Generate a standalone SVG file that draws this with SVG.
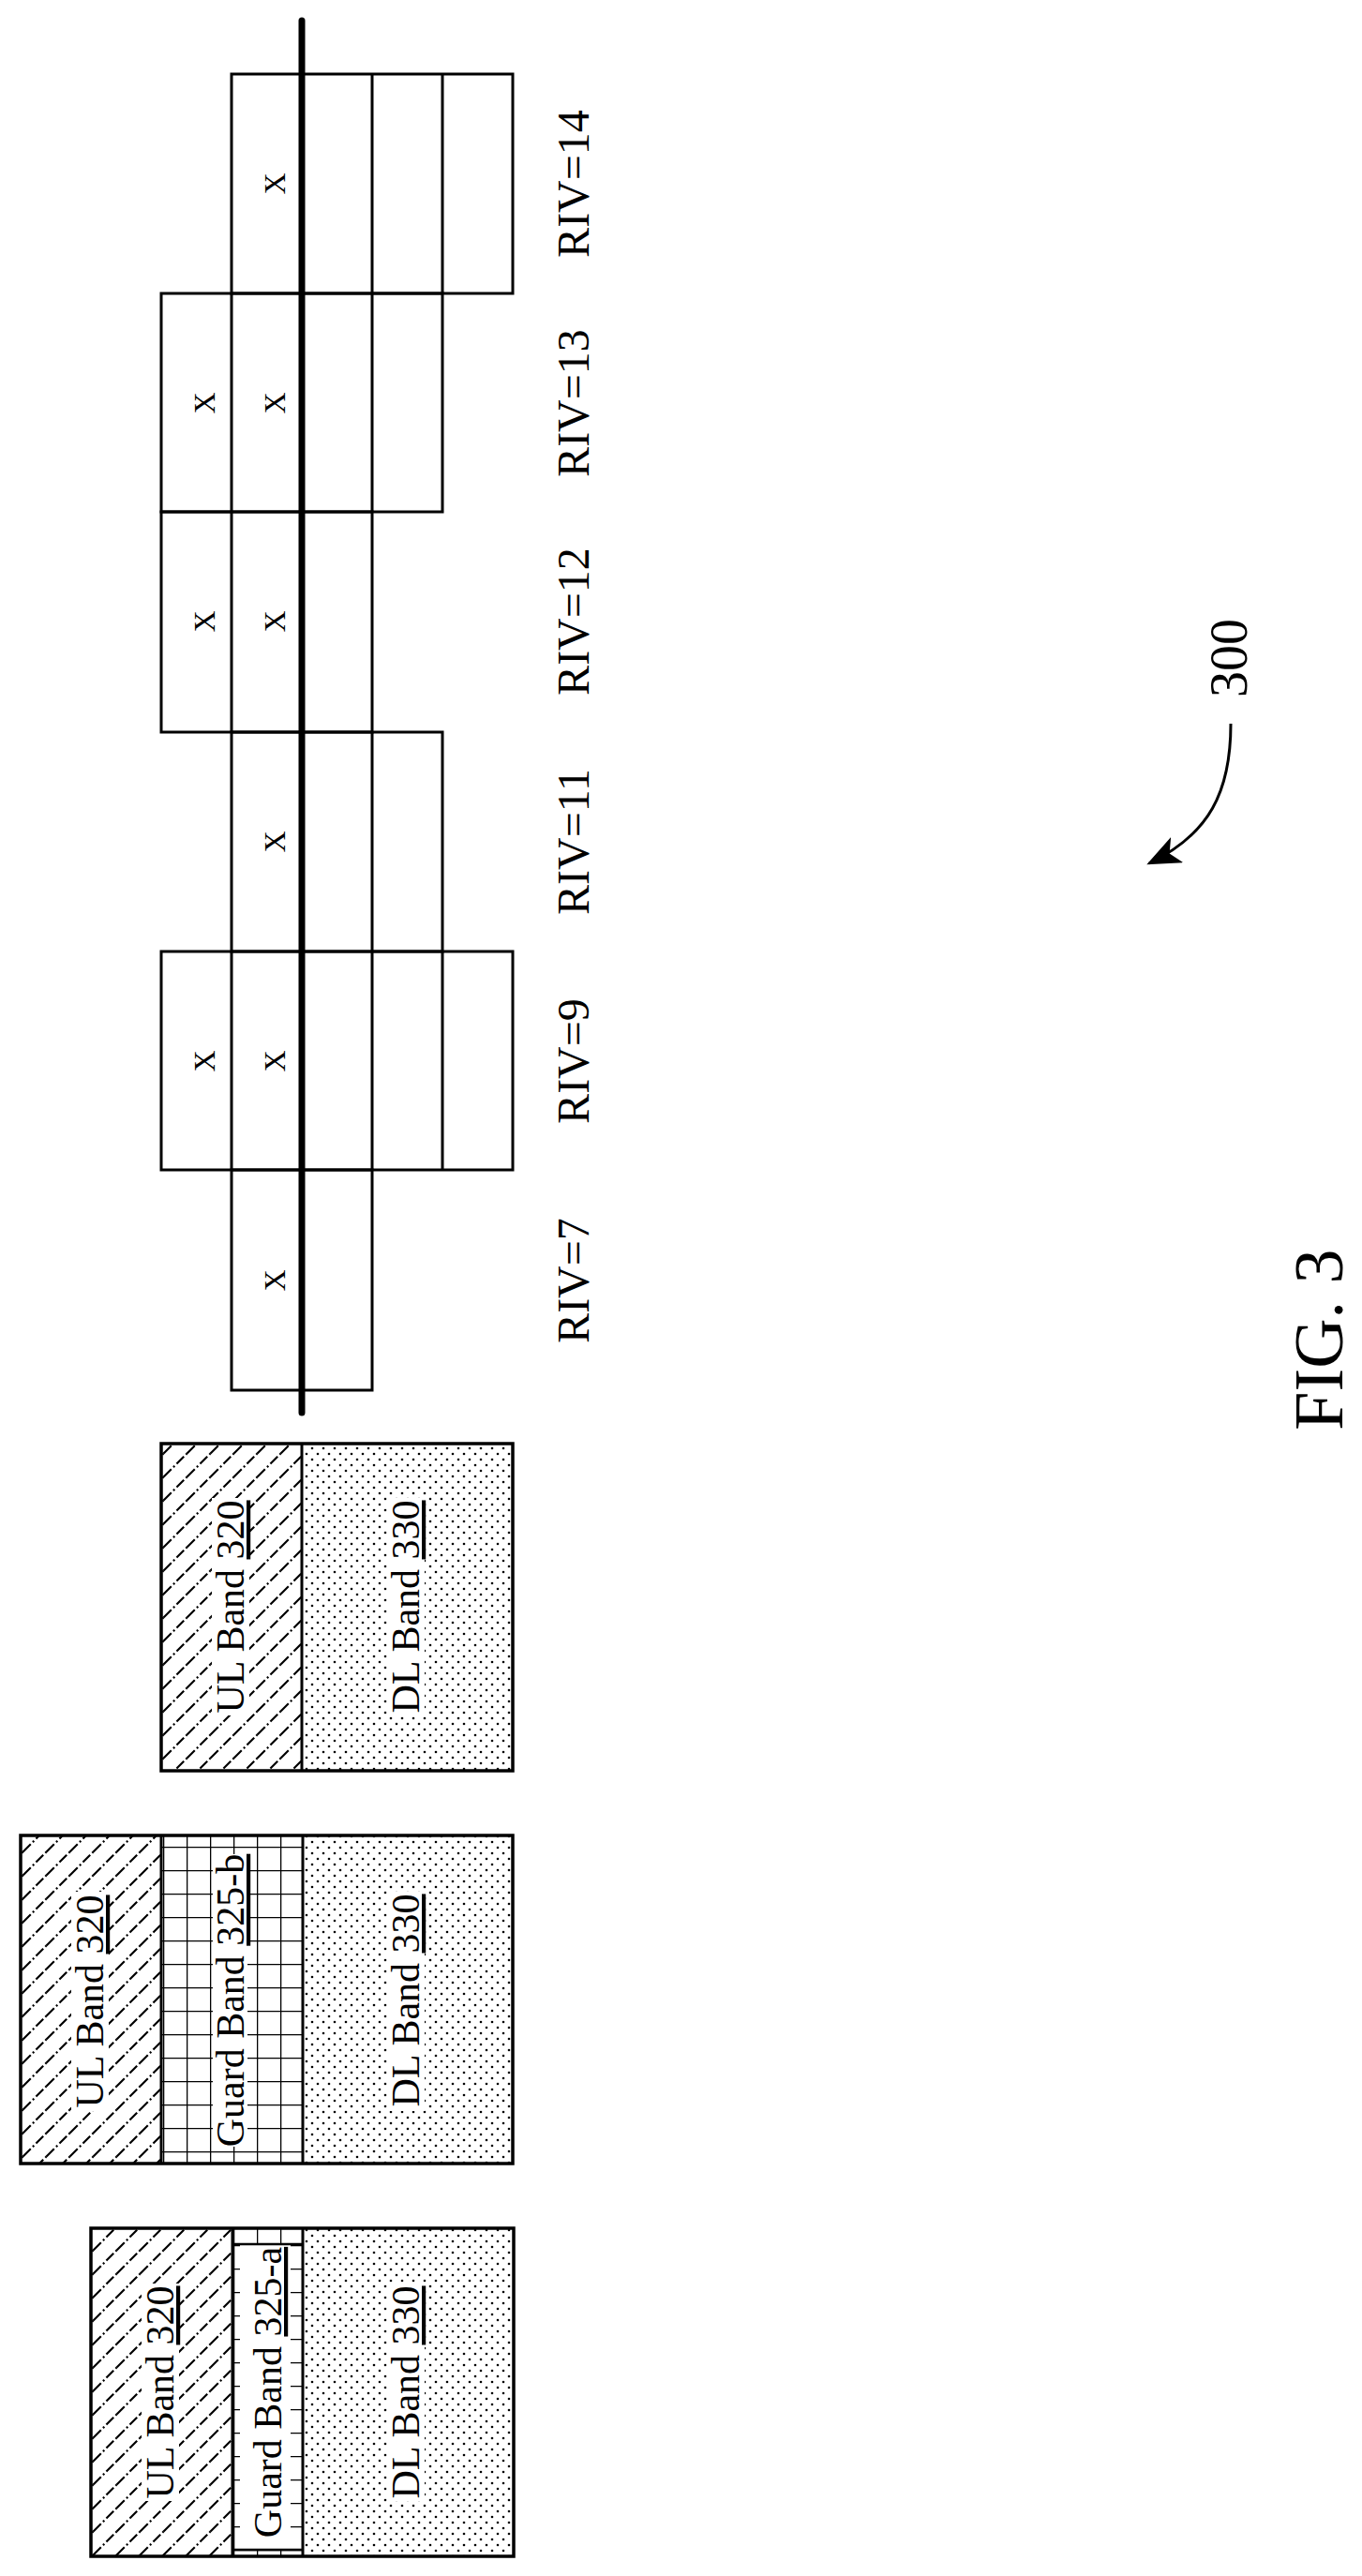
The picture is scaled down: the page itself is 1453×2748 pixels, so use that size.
<svg xmlns="http://www.w3.org/2000/svg" width="1453" height="2748" viewBox="0 0 1453 2748">
<style>
text{font-family:"Liberation Serif","Times New Roman",serif;fill:#000}
.lbl{font-size:42px;text-anchor:middle}
.riv{font-size:48px;text-anchor:middle}
.x{font-size:32px;text-anchor:middle}
.cell{fill:none;stroke:#000;stroke-width:3}
.box{stroke:#000;stroke-width:3.5}
.div{stroke:#000;stroke-width:3}
.wb{fill:#fff;stroke:none}
</style>
<defs>
<pattern id="hatch" patternUnits="userSpaceOnUse" width="25" height="25">
<path d="M0,25 L25,0 M-5,5 L5,-5 M20,30 L30,20" stroke="#000" stroke-width="2.2" stroke-dasharray="11 3 2 3"/>
</pattern>
<pattern id="dots" patternUnits="userSpaceOnUse" width="12" height="12">
<circle cx="3" cy="3" r="1.3" fill="#000"/><circle cx="9" cy="9" r="1.3" fill="#000"/>
</pattern>
<pattern id="grid" patternUnits="userSpaceOnUse" x="174" y="1945" width="25" height="25">
<path d="M0,0 V25 M0,0 H25" stroke="#000" stroke-width="2.6"/>
</pattern>
<marker id="ah" markerWidth="12" markerHeight="10" refX="11" refY="5" orient="auto" markerUnits="strokeWidth">
<path d="M0,0 L12,5 L0,10 L3,5 Z" fill="#000"/>
</marker>
</defs>
<rect width="1453" height="2748" fill="#fff"/>

<g id="grid-cells">
<rect class="cell" x="247" y="79" width="300" height="234"/>
<line class="div" x1="397" y1="79" x2="397" y2="313"/><line class="div" x1="472" y1="79" x2="472" y2="313"/>
<rect class="cell" x="172" y="313" width="300" height="233"/>
<line class="div" x1="247" y1="313" x2="247" y2="546"/><line class="div" x1="397" y1="313" x2="397" y2="546"/>
<rect class="cell" x="172" y="546" width="225" height="235"/>
<line class="div" x1="247" y1="546" x2="247" y2="781"/>
<rect class="cell" x="247" y="781" width="225" height="234"/>
<line class="div" x1="397" y1="781" x2="397" y2="1015"/>
<rect class="cell" x="172" y="1015" width="375" height="233"/>
<line class="div" x1="247" y1="1015" x2="247" y2="1248"/><line class="div" x1="397" y1="1015" x2="397" y2="1248"/><line class="div" x1="472" y1="1015" x2="472" y2="1248"/>
<rect class="cell" x="247" y="1248" width="150" height="235"/>
<text class="x" transform="rotate(-90 304 196)" x="304" y="196">X</text>
<text class="x" transform="rotate(-90 229 430)" x="229" y="430">X</text>
<text class="x" transform="rotate(-90 304 430)" x="304" y="430">X</text>
<text class="x" transform="rotate(-90 229 663)" x="229" y="663">X</text>
<text class="x" transform="rotate(-90 304 663)" x="304" y="663">X</text>
<text class="x" transform="rotate(-90 304 898)" x="304" y="898">X</text>
<text class="x" transform="rotate(-90 229 1132)" x="229" y="1132">X</text>
<text class="x" transform="rotate(-90 304 1132)" x="304" y="1132">X</text>
<text class="x" transform="rotate(-90 304 1366)" x="304" y="1366">X</text>
<line x1="322" y1="22" x2="322" y2="1507" stroke="#000" stroke-width="7" stroke-linecap="round"/>
</g>

<g id="riv-labels">
<text class="riv" transform="rotate(-90 628 196)" x="628" y="196">RIV=14</text>
<text class="riv" transform="rotate(-90 628 430)" x="628" y="430">RIV=13</text>
<text class="riv" transform="rotate(-90 628 663)" x="628" y="663">RIV=12</text>
<text class="riv" transform="rotate(-90 628 898)" x="628" y="898">RIV=11</text>
<text class="riv" transform="rotate(-90 628 1132)" x="628" y="1132">RIV=9</text>
<text class="riv" transform="rotate(-90 628 1366)" x="628" y="1366">RIV=7</text>
</g>

<g id="band-set-1">
<rect x="172" y="1540" width="150" height="349" fill="url(#hatch)"/>
<rect x="322" y="1540" width="225" height="349" fill="url(#dots)"/>
<rect class="wb" x="226" y="1598" width="40" height="232"/>
<rect class="wb" x="413" y="1598" width="40" height="232"/>
<rect x="172" y="1540" width="375" height="349" fill="none" class="box"/>
<line class="div" x1="322" y1="1540" x2="322" y2="1889"/>
<text class="lbl" transform="rotate(-90 260 1714)" x="260" y="1714">UL Band <tspan text-decoration="underline">320</tspan></text>
<text class="lbl" transform="rotate(-90 447 1714)" x="447" y="1714">DL Band <tspan text-decoration="underline">330</tspan></text>
</g>

<g id="band-set-2">
<rect x="22" y="1958" width="150" height="350" fill="url(#hatch)"/>
<rect x="172" y="1958" width="151" height="350" fill="url(#grid)"/>
<rect x="323" y="1958" width="224" height="350" fill="url(#dots)"/>
<rect class="wb" x="76" y="2018" width="40" height="234"/>
<rect class="wb" x="227" y="1978" width="37" height="312"/>
<rect class="wb" x="413" y="2018" width="40" height="234"/>
<rect x="22" y="1958" width="525" height="350" fill="none" class="box"/>
<line class="div" x1="172" y1="1958" x2="172" y2="2308"/>
<line class="div" x1="323" y1="1958" x2="323" y2="2308"/>
<text class="lbl" transform="rotate(-90 110 2135)" x="110" y="2135">UL Band <tspan text-decoration="underline">320</tspan></text>
<text class="lbl" transform="rotate(-90 260 2134)" x="260" y="2134">Guard Band <tspan text-decoration="underline">325-b</tspan></text>
<text class="lbl" transform="rotate(-90 447 2134)" x="447" y="2134">DL Band <tspan text-decoration="underline">330</tspan></text>
</g>

<g id="band-set-3">
<rect x="97" y="2377" width="151" height="350" fill="url(#hatch)"/>
<rect x="248" y="2377" width="75" height="350" fill="url(#grid)"/>
<rect x="323" y="2377" width="225" height="350" fill="url(#dots)"/>
<rect class="wb" x="151" y="2436" width="40" height="232"/>
<rect class="wb" x="256" y="2395" width="54" height="324"/>
<rect class="wb" x="413" y="2436" width="40" height="232"/>
<line x1="248" y1="2394" x2="323" y2="2394" stroke="#000" stroke-width="2.6"/>
<line x1="248" y1="2720" x2="323" y2="2720" stroke="#000" stroke-width="2.6"/>
<rect x="97" y="2377" width="451" height="350" fill="none" class="box"/>
<line class="div" x1="248" y1="2377" x2="248" y2="2727"/>
<line class="div" x1="323" y1="2377" x2="323" y2="2727"/>
<text class="lbl" transform="rotate(-90 185 2552)" x="185" y="2552">UL Band <tspan text-decoration="underline">320</tspan></text>
<text class="lbl" transform="rotate(-90 300 2552)" x="300" y="2552">Guard Band <tspan text-decoration="underline">325-a</tspan></text>
<text class="lbl" transform="rotate(-90 447 2552)" x="447" y="2552">DL Band <tspan text-decoration="underline">330</tspan></text>
</g>

<g id="ref-300">
<text transform="rotate(-90 1330 702)" x="1330" y="702" font-size="56" text-anchor="middle">300</text>
</g>
<g id="connectors">
<path d="M1313,772 C1313,845 1290,890 1226,921" fill="none" stroke="#000" stroke-width="3" marker-end="url(#ah)"/>
</g>
<g id="caption">
<text transform="rotate(-90 1432 1429)" x="1432" y="1429" font-size="74" text-anchor="middle">FIG. 3</text>
</g>
</svg>
